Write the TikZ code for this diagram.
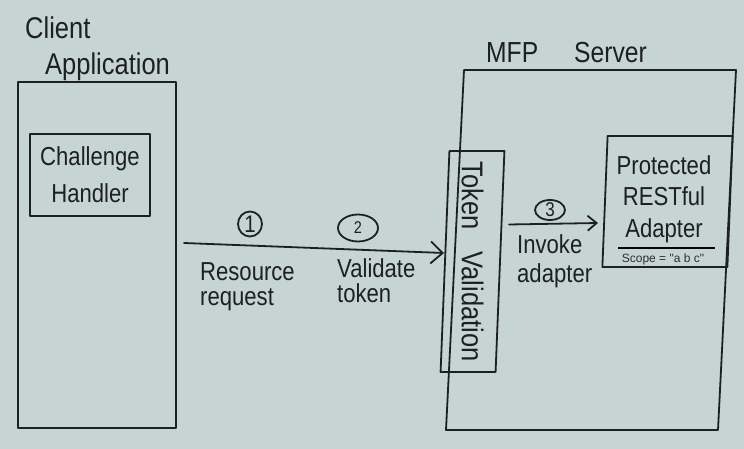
\documentclass[tikz,border=0pt]{standalone}
\usepackage{fontspec}
\usetikzlibrary{arrows.meta,shapes.geometric}
\newfontfamily\handfont[FakeStretch=0.85]{Liberation Sans}
\newfontfamily\typefont{Liberation Sans}
\definecolor{paper}{RGB}{198,212,210}
\definecolor{ink}{RGB}{28,32,32}
\definecolor{typeink}{RGB}{45,48,48}

\begin{document}
\begin{tikzpicture}[x=1pt,y=-1pt,
  pen/.style={draw=ink, line width=1.8pt, line cap=round, line join=round},
  frame/.style={pen, rectangle, inner sep=0pt, outer sep=0pt},
  lean/.style={xslant=#1, transform shape},
  hand/.style 2 args={text=ink, inner sep=0pt, font=\handfont\fontsize{#1}{#2}\selectfont},
  tag/.style={pen, ellipse, inner sep=0pt, text=ink, font=\handfont\fontsize{#1}{#1}\selectfont},
  flow/.style={pen, -{Straight Barb[length=12pt,width=22pt]}},
  call/.style={pen, -{Straight Barb[length=9pt,width=15pt]}},
]
% paper
\fill[paper] (0,0) rectangle (744,449);
\useasboundingbox (0,0) rectangle (744,449);

% client side
\node[hand={30}{36}, align=left, anchor=north west] (clientlbl) at (25,17) {Client\\\hspace*{20pt}Application};
\node[frame, minimum width=158, minimum height=346] (client) at (97,255) {};
\node[frame, minimum width=120, minimum height=82, hand={26}{37}, align=center] (handler) at (90,175) {Challenge\\Handler};

% server side
\node[hand={29}{29}, anchor=north west] (serverlbl) at (486,42) {MFP\hspace{36pt}Server};
\begin{scope}[shift={(591,250)}]
  \node[frame, lean=0.05, minimum width=272, minimum height=360] (server) at (0,0) {};
\end{scope}
\begin{scope}[shift={(472.5,261.5)}]
  \node[frame, lean=0.04, minimum width=55, minimum height=221] (token) at (0,0) {};
\end{scope}
\node[hand={30}{30}, rotate=-90] (tokenlbl) at (token.center) {Token\hspace{22pt}Validation};

\begin{scope}[shift={(667.5,201.5)}]
  \node[frame, lean=0.04, minimum width=125, minimum height=131] (adapter) at (0,0) {};
\end{scope}
\node[hand={26}{31.5}, align=center, anchor=north] (adlbl) at (664,155) {Protected\\RESTful\\Adapter};
\coordinate (ruleL) at (618,248);
\coordinate (ruleR) at (715,248);
\draw[black, line width=2pt] (ruleL) -- (ruleR);
\node[inner sep=0pt, text=typeink, font=\typefont\fontsize{12}{12}\selectfont] (scopelbl) at (663,259) {Scope = "a b c"};

% request flow
\draw[flow] ([xshift=8pt,yshift=12pt]client.east) -- ([xshift=-1pt,yshift=8.5pt]token.west);
\draw[call] ([xshift=9pt,yshift=37pt]token.east) -- ([xshift=-7pt,yshift=-21.5pt]adapter.west);

\node[tag=24, minimum width=24, minimum height=25] (n1) at (250,224) {1};
\node[tag=17, minimum width=40, minimum height=27] (n2) at (358,228) {2};
\node[tag=20, minimum width=30, minimum height=20] (n3) at (550,210) {3};

\node[hand={26}{25}, align=left, anchor=north west] (reslbl) at (200,262) {Resource\\request};
\node[hand={26}{25}, align=left, anchor=north west] (vallbl) at (337,258) {Validate\\token};
\node[hand={26}{29}, align=left, anchor=north west] (invlbl) at (517,234) {Invoke\\adapter};
\end{tikzpicture}
\end{document}
